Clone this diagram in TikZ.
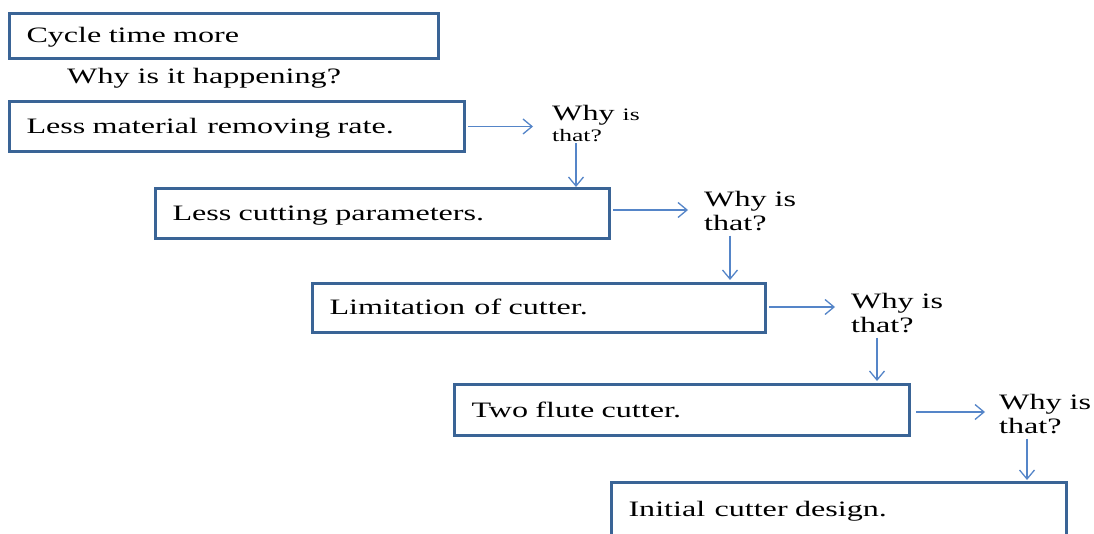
\documentclass[tikz,border=0pt]{standalone}
\usepackage{fontspec}
\setmainfont{Liberation Serif}[FakeStretch=1.46]
\usetikzlibrary{arrows.meta}
\definecolor{boxblue}{HTML}{3A6496}
\definecolor{arrowblue}{HTML}{5585C8}

\begin{document}
\begin{tikzpicture}[x=1pt,y=-1pt,
  box/.style={draw=boxblue, line width=3pt, anchor=north west, align=left,
    inner xsep=17pt, inner ysep=0pt, text height=17pt, text depth=3pt,
    font=\fontsize{22}{24}\selectfont},
  why/.style={anchor=base west, align=left, inner sep=0pt,
    font=\fontsize{22}{24}\selectfont},
  arr/.style={draw=arrowblue, line width=1.3pt,
    -{Straight Barb[length=9pt,width=15pt]}}]
\clip (0,0) rectangle (1094,534);

% the chain of causes
\node[box, minimum width=429pt, minimum height=45pt, text width=395pt] (b1) at (8,12) {Cycle time more};
\node[why] (q0) at (67,84) {Why is it happening?};
\node[box, minimum width=455pt, minimum height=50pt, text width=421pt] (b2) at (8,100) {Less material \hspace{2pt}removing rate.};
\node[box, minimum width=454pt, minimum height=50pt, text width=420pt] (b3) at (154,187) {Less cutting parameters.};
\node[box, minimum width=453pt, minimum height=49pt, text width=419pt] (b4) at (311,282) {Limitation \hspace{2pt}of cutter.};
\node[box, minimum width=455pt, minimum height=51pt, text width=421pt] (b5) at (453,383) {Two flute cutter.};
\node[box, minimum width=455pt, minimum height=54pt, text width=421pt] (b6) at (610,481) {Initial \hspace{2pt}cutter design.};

% the questions between the steps (anchored on the baseline of "that?")
\node[why] (w1) at (552,142) {Why {\fontsize{17.5}{21}\selectfont is}\\[-3pt]{\fontsize{17.5}{21}\selectfont that?}};
\node[why] (w2) at (704,231) {Why is\\that?};
\node[why] (w3) at (851,332) {Why is\\that?};
\node[why] (w4) at (999,433) {Why is\\that?};

% from each box to its question
\draw[arr, shorten <=2pt, shorten >=19pt] (b2.east) -- (b2.east -| w1.west);
\draw[arr, shorten <=2pt, shorten >=16pt] ([yshift=3.5pt]b3.east) -- ([yshift=3.5pt]b3.east -| w2.west);
\draw[arr, shorten <=2pt, shorten >=16pt] ([yshift=1pt]b4.east) -- ([yshift=1pt]b4.east -| w3.west);
\draw[arr, shorten <=5pt, shorten >=14pt] ([yshift=-2pt]b5.east) -- ([yshift=-2pt]b5.east -| w4.west);

% from each question down to the next box
\draw[arr, shorten <=1pt] ([xshift=24pt]w1.south west) -- ([xshift=24pt]w1.south west |- b3.north);
\draw[arr, shorten <=4pt, shorten >=2pt] ([xshift=26pt]w2.south west) -- ([xshift=26pt]w2.south west |- b4.north);
\draw[arr, shorten <=5pt, shorten >=2pt] ([xshift=26pt]w3.south west) -- ([xshift=26pt]w3.south west |- b5.north);
\draw[arr, shorten <=5pt, shorten >=1pt] ([xshift=28pt]w4.south west) -- ([xshift=28pt]w4.south west |- b6.north);
\end{tikzpicture}
\end{document}
